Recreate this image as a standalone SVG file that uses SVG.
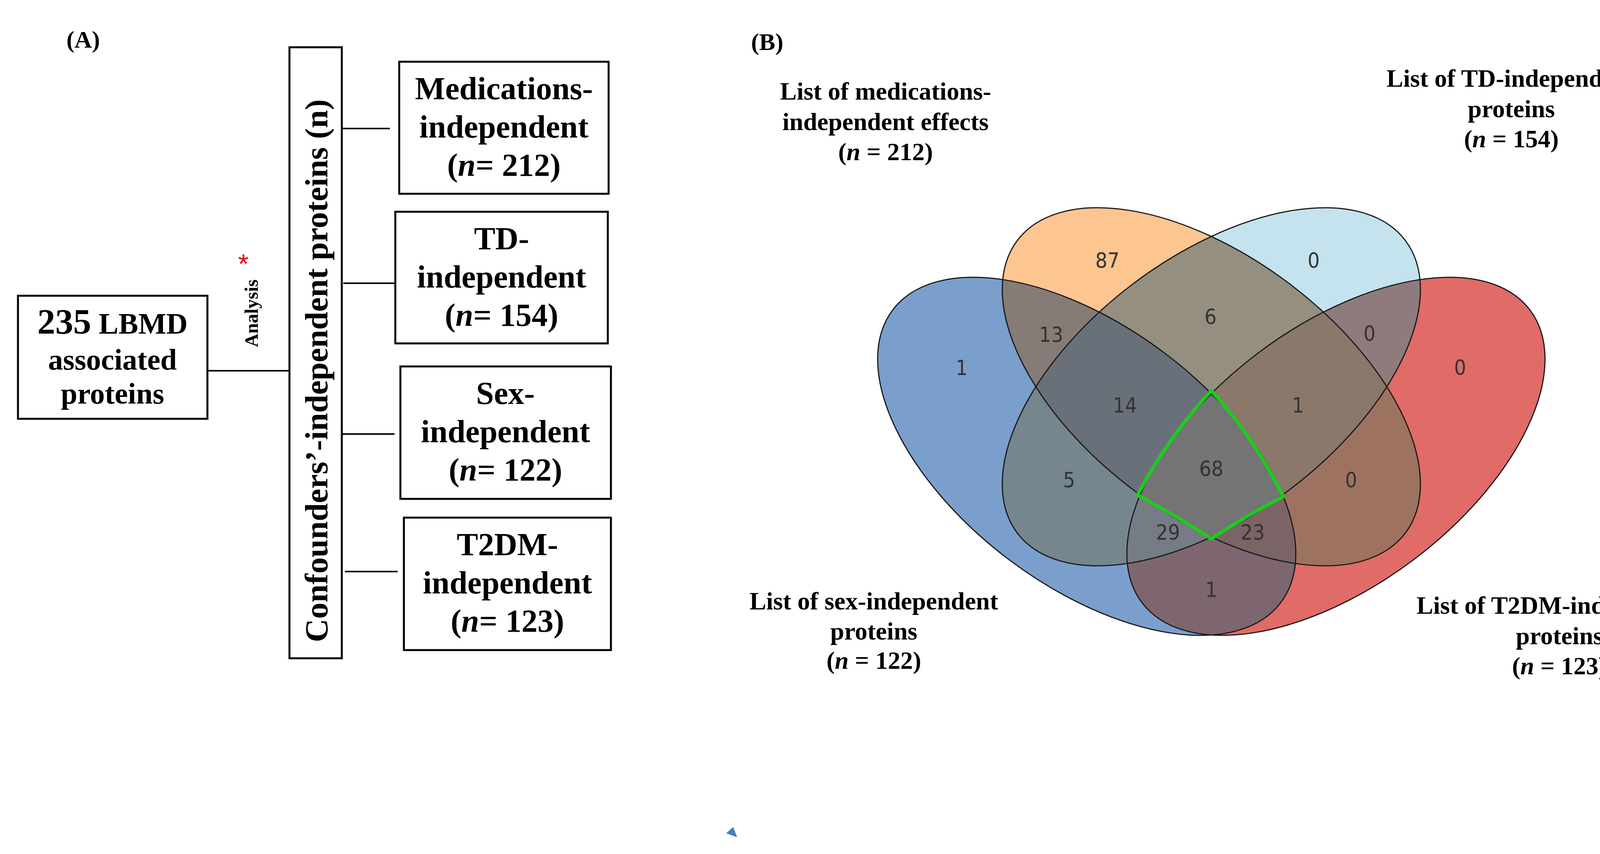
<svg xmlns="http://www.w3.org/2000/svg" xmlns:xlink="http://www.w3.org/1999/xlink" width="4400" height="2186" viewBox="0 0 4400 2186">
<style>
.box{fill:#fff;stroke:#000;stroke-width:5}
.ln{stroke:#000;stroke-width:4;fill:none}
.t{font-family:"Liberation Serif","Times New Roman",serif;font-weight:bold;fill:#000;text-anchor:middle}
.bx{font-size:82px}
.lb{font-size:64px}
.num{font-family:"DejaVu Sans Condensed","DejaVu Sans",sans-serif;font-size:54px;fill:#333;text-anchor:middle}
.out{fill:none;stroke:#1a1a1a;stroke-width:3}
</style>
<defs>
<ellipse id="eS" cx="2782" cy="1168" rx="622" ry="331" transform="rotate(37 2782 1168)"/>
<ellipse id="eM" cx="3101" cy="990" rx="622" ry="331" transform="rotate(37 3101 990)"/>
<ellipse id="eT" cx="3101" cy="990" rx="622" ry="331" transform="rotate(-37 3101 990)"/>
<ellipse id="eD" cx="3420" cy="1168" rx="622" ry="331" transform="rotate(-37 3420 1168)"/>
<clipPath id="cS"><use xlink:href="#eS"/></clipPath>
<clipPath id="cM"><use xlink:href="#eM"/></clipPath>
<clipPath id="cT"><use xlink:href="#eT"/></clipPath>
<clipPath id="cD"><use xlink:href="#eD"/></clipPath>
</defs>
<rect width="4400" height="2186" fill="#fff"/>
<text class="t" x="213" y="122" font-size="62">(A)</text>
<text class="t" x="1964" y="128" font-size="62">(B)</text>

<g id="connectors">
<line class="ln" x1="525" y1="949" x2="741" y2="949"/>
<line class="ln" x1="863" y1="329" x2="998" y2="329"/>
<line class="ln" x1="879" y1="725" x2="1016" y2="725"/>
<line class="ln" x1="875" y1="1111" x2="1010" y2="1111"/>
<line class="ln" x1="883" y1="1463" x2="1018" y2="1463"/>
</g>

<g id="lbmd">
<rect class="box" x="46" y="757" width="485" height="315"/>
<text class="t" x="288" y="854"><tspan font-size="92">235</tspan><tspan font-size="76"> LBMD</tspan></text>
<text class="t" x="288" y="946" font-size="76">associated</text>
<text class="t" x="288" y="1033" font-size="76">proteins</text>
</g>
<g id="analysis">
<text class="t" font-size="48" transform="translate(660,802) rotate(-90)">Analysis</text>
<text x="623" y="700" font-family="Liberation Sans,sans-serif" font-size="70" fill="#e00" text-anchor="middle">*</text>
</g>
<g id="confounders">
<rect class="box" x="741" y="121" width="134" height="1564"/>
<text class="t bx" transform="translate(838,949) rotate(-90)" textLength="1390" lengthAdjust="spacingAndGlyphs">Confounders’-independent proteins (n)</text>
</g>
<g id="medications">
<rect class="box" x="1022" y="158" width="536" height="338"/>
<text class="t bx" x="1290" y="254">Medications-</text>
<text class="t bx" x="1290" y="352">independent</text>
<text class="t bx" x="1290" y="450">(<tspan font-style="italic">n</tspan>= 212)</text>
</g>
<g id="td">
<rect class="box" x="1012" y="542" width="544" height="337"/>
<text class="t bx" x="1284" y="638">TD-</text>
<text class="t bx" x="1284" y="736">independent</text>
<text class="t bx" x="1284" y="834">(<tspan font-style="italic">n</tspan>= 154)</text>
</g>
<g id="sex">
<rect class="box" x="1025" y="938" width="539" height="339"/>
<text class="t bx" x="1294" y="1034">Sex-</text>
<text class="t bx" x="1294" y="1132">independent</text>
<text class="t bx" x="1294" y="1230">(<tspan font-style="italic">n</tspan>= 122)</text>
</g>
<g id="t2dm">
<rect class="box" x="1034" y="1325" width="530" height="339"/>
<text class="t bx" x="1299" y="1421">T2DM-</text>
<text class="t bx" x="1299" y="1519">independent</text>
<text class="t bx" x="1299" y="1617">(<tspan font-style="italic">n</tspan>= 123)</text>
</g>

<g id="venn">
<use xlink:href="#eS" fill="#7B9FCC"/>
<use xlink:href="#eM" fill="#FDC58F"/>
<use xlink:href="#eT" fill="#C4E3EE"/>
<use xlink:href="#eD" fill="#E06B67"/>
<g clip-path="url(#cS)"><use xlink:href="#eM" fill="#857C78"/></g>
<g clip-path="url(#cM)"><use xlink:href="#eT" fill="#958F80"/></g>
<g clip-path="url(#cT)"><use xlink:href="#eD" fill="#8F7B7C"/></g>
<g clip-path="url(#cS)"><use xlink:href="#eD" fill="#7E6670"/></g>
<g clip-path="url(#cS)"><use xlink:href="#eT" fill="#75868F"/></g>
<g clip-path="url(#cM)"><use xlink:href="#eD" fill="#9E7261"/></g>
<g clip-path="url(#cS)"><g clip-path="url(#cM)"><use xlink:href="#eT" fill="#6A7079"/></g></g>
<g clip-path="url(#cM)"><g clip-path="url(#cT)"><use xlink:href="#eD" fill="#8A786A"/></g></g>
<g clip-path="url(#cS)"><g clip-path="url(#cT)"><use xlink:href="#eD" fill="#757C83"/></g></g>
<g clip-path="url(#cS)"><g clip-path="url(#cM)"><use xlink:href="#eD" fill="#7B6465"/></g></g>
<g clip-path="url(#cS)"><g clip-path="url(#cM)"><g clip-path="url(#cT)"><use xlink:href="#eD" fill="#747375"/></g></g></g>
<use xlink:href="#eS" class="out"/>
<use xlink:href="#eM" class="out"/>
<use xlink:href="#eT" class="out"/>
<use xlink:href="#eD" class="out"/>
</g>
<path d="M3101 1000 Q2990 1120 2912 1267 Q3010 1320 3101 1379 Q3190 1320 3285 1271 Q3210 1120 3101 1000 Z" fill="none" stroke="#1ECB1E" stroke-width="9" stroke-linejoin="round"/>
<g id="counts">
<text class="num" x="2835" y="685">87</text>
<text class="num" x="3363" y="685">0</text>
<text class="num" x="3099" y="829">6</text>
<text class="num" x="2691" y="875">13</text>
<text class="num" x="3506" y="872">0</text>
<text class="num" x="2462" y="960">1</text>
<text class="num" x="3738" y="959">0</text>
<text class="num" x="2880" y="1056">14</text>
<text class="num" x="3323" y="1056">1</text>
<text class="num" x="3101" y="1218">68</text>
<text class="num" x="2737" y="1247">5</text>
<text class="num" x="3459" y="1247">0</text>
<text class="num" x="2990" y="1381">29</text>
<text class="num" x="3207" y="1381">23</text>
<text class="num" x="3101" y="1528">1</text>
</g>
<g id="labels">
<text class="t lb" x="2267" y="255">List of medications-</text>
<text class="t lb" x="2267" y="333">independent  effects</text>
<text class="t lb" x="2267" y="410">(<tspan font-style="italic">n</tspan> = 212)</text>
<text class="t lb" x="3869" y="222">List of TD-independent</text>
<text class="t lb" x="3869" y="300">proteins</text>
<text class="t lb" x="3869" y="377">(<tspan font-style="italic">n</tspan> = 154)</text>
<text class="t lb" x="2237" y="1560">List of sex-independent</text>
<text class="t lb" x="2237" y="1637">proteins</text>
<text class="t lb" x="2237" y="1712">(<tspan font-style="italic">n</tspan> = 122)</text>
<text class="t lb" x="3992" y="1571">List of T2DM-independent</text>
<text class="t lb" x="3992" y="1649">proteins</text>
<text class="t lb" x="3992" y="1726">(<tspan font-style="italic">n</tspan> = 123)</text>
</g>
<polygon points="1877,2117 1859,2133 1887,2143" fill="#4A7EC0"/>
</svg>
